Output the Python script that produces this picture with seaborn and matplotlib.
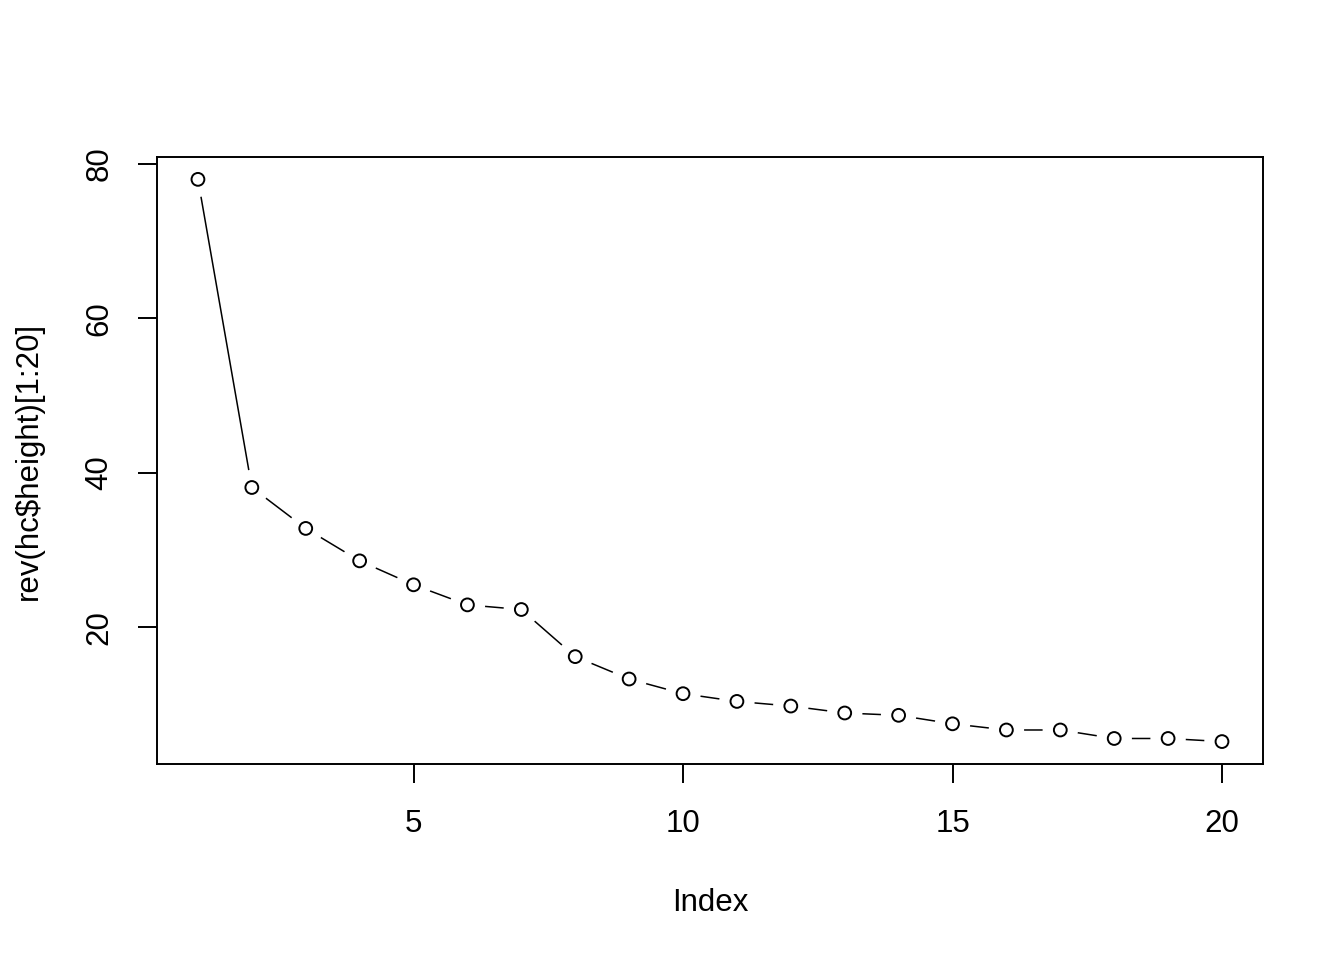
import numpy as np
import pandas as pd
import matplotlib
matplotlib.use("Agg")
import matplotlib.pyplot as plt
import seaborn as sns

# ---- datos ----
index = list(range(1, 21))
heights = [78.0, 38.1, 32.8, 28.6, 25.5, 22.9, 22.3, 16.2, 13.3, 11.4,
           10.4, 9.8, 8.9, 8.6, 7.5, 6.7, 6.7, 5.6, 5.6, 5.2]
x_ticks = [5, 10, 15, 20]
y_ticks = [20, 40, 60, 80]

df = pd.DataFrame({"Index": index, "height": heights})

sns.set_style("white")
plt.rcParams['font.family'] = ['Liberation Sans', 'DejaVu Sans']

fig = plt.figure(figsize=(13.44, 9.6), dpi=100)
ax = fig.add_axes([0.1168, 0.2042, 0.8229, 0.6323])

# tipo "b" de R: línea con huecos alrededor de los puntos
sns.lineplot(data=df, x="Index", y="height", ax=ax, color="black",
             linewidth=1.1, zorder=1)
sns.scatterplot(data=df, x="Index", y="height", ax=ax, s=650,
                color="white", edgecolor="none", zorder=2)
sns.scatterplot(data=df, x="Index", y="height", ax=ax, s=85,
                facecolor="none", edgecolor="black", linewidth=1.4, zorder=3)

ax.set_xlim(0.24, 20.76)
ax.set_ylim(2.3, 80.9)
ax.set_xticks(x_ticks)
ax.set_yticks(y_ticks)
ax.set_yticklabels([str(v) for v in y_ticks], rotation=90, va="center")
ax.tick_params(axis="both", direction="out", length=13.5, width=1.4,
               color="black", labelsize=22.5, labelcolor="black", left=True,
               bottom=True)
ax.tick_params(axis="x", pad=19)
ax.tick_params(axis="y", pad=17)

for sp in ax.spines.values():
    sp.set_visible(True)
    sp.set_color("black")
    sp.set_linewidth(1.4)
    sp.set_zorder(5)

ax.set_xlabel("Index", fontsize=22.5, labelpad=35, color="black")
ax.set_ylabel(r"rev(hc\$height)[1:20]", fontsize=22.5, labelpad=29, color="black")
ax.grid(False)

plt.savefig("out.png", dpi=100)
plt.close()
